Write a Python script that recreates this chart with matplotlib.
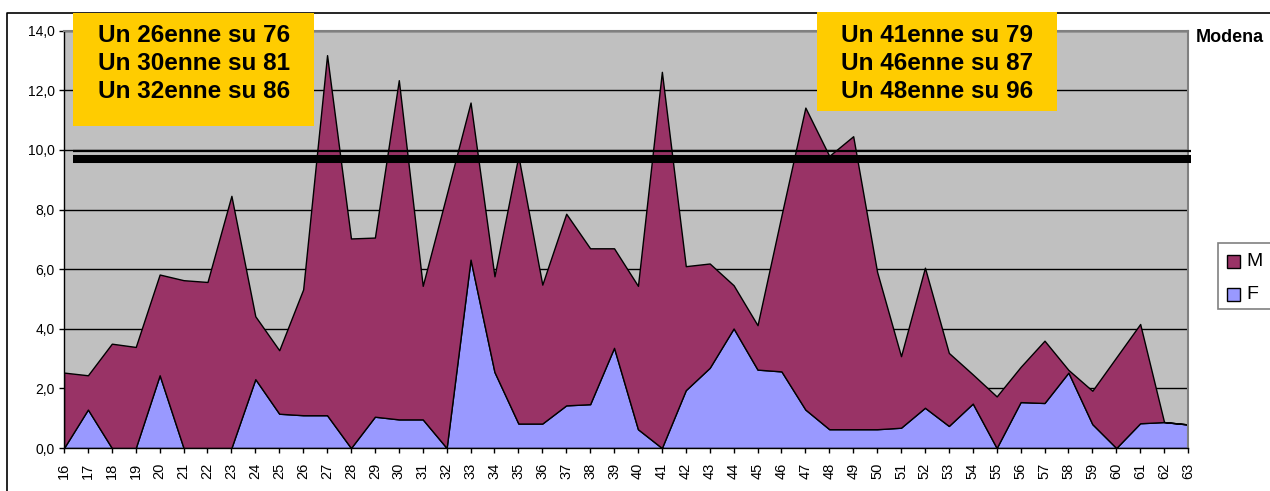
import matplotlib
matplotlib.use("Agg")
import matplotlib.pyplot as plt
from matplotlib.patches import Rectangle
from matplotlib.lines import Line2D

plt.rcParams['font.family'] = ['Liberation Sans', 'DejaVu Sans']

# ---------------- data ----------------
ages = list(range(16, 64))
F = [0.00, 1.29, 0.00, 0.00, 2.44, 0.00, 0.00, 0.00, 2.31, 1.15,
     1.10, 1.10, 0.00, 1.05, 0.96, 0.96, 0.00, 6.32, 2.55, 0.82,
     0.82, 1.43, 1.47, 3.36, 0.63, 0.00, 1.94, 2.69, 4.01, 2.63,
     2.57, 1.29, 0.63, 0.63, 0.63, 0.68, 1.35, 0.74, 1.49, 0.00,
     1.54, 1.51, 2.53, 0.80, 0.00, 0.83, 0.87, 0.79]
M = [2.53, 1.15, 3.50, 3.39, 3.38, 5.63, 5.57, 8.46, 2.11, 2.13,
     4.22, 12.08, 7.03, 6.01, 11.38, 4.48, 8.50, 5.27, 3.21, 8.98,
     4.66, 6.43, 5.23, 3.34, 4.81, 12.62, 4.16, 3.50, 1.45, 1.49,
     5.23, 10.13, 9.17, 9.83, 5.28, 2.40, 4.70, 2.45, 0.98, 1.73,
     1.18, 2.09, 0.09, 1.12, 3.04, 3.33, 0.00, 0.00]
series_labels = ['M', 'F']
y_ticks = [0, 2, 4, 6, 8, 10, 12, 14]
y_tick_labels = ['0,0', '2,0', '4,0', '6,0', '8,0', '10,0', '12,0', '14,0']
ref_thin = 9.95
ref_thick = 9.68
box_left_lines = ['Un 26enne su 76', 'Un 30enne su 81', 'Un 32enne su 86']
box_right_lines = ['Un 41enne su 79', 'Un 46enne su 87', 'Un 48enne su 96']
title = 'Modena'

COL_M = '#993366'
COL_F = '#9999FF'
W, H = 1270, 491

fig = plt.figure(figsize=(W / 100, H / 100), dpi=100)
fig.patch.set_facecolor('white')


def fx(x):
    return x / W


def fy(y):
    return 1 - y / H


ax = fig.add_axes([fx(64), fy(448), fx(1188) - fx(64), (448 - 30.7) / H])
ax.set_facecolor('#C0C0C0')
ax.set_xlim(ages[0], ages[-1])
ax.set_ylim(0, 14)

for t in y_ticks[1:]:
    ax.axhline(t, color='black', lw=1.0, zorder=1)

ax.stackplot(ages, F, M, colors=[COL_F, COL_M], edgecolor='black',
             linewidth=1.0, zorder=2)

# reference lines
x0 = ages[0] + 9 / 23.92
x1 = ages[-1] + 3 / 23.92
ax.plot([x0, x1], [ref_thin, ref_thin], color='black', lw=1.6,
        clip_on=False, zorder=4, solid_capstyle='butt')
ax.plot([x0, x1], [ref_thick, ref_thick], color='black', lw=5.8,
        clip_on=False, zorder=4, solid_capstyle='butt')

ax.set_yticks(y_ticks)
ax.set_yticklabels(y_tick_labels, fontsize=10)
ax.set_xticks(ages)
ax.set_xticklabels([str(a) for a in ages], rotation=90, fontsize=10.5)
ax.tick_params(axis='both', direction='out', length=3.5, width=1, color='black')
ax.tick_params(axis='y', pad=3)
ax.tick_params(axis='x', pad=7)
for s in ['left', 'bottom']:
    ax.spines[s].set_color('black')
    ax.spines[s].set_linewidth(1)
for s in ['right', 'top']:
    ax.spines[s].set_color('#808080')
    ax.spines[s].set_linewidth(1.5)

# outer border of chart area
fig.add_artist(Line2D([fx(7), fx(7), fx(1275)], [fy(495), fy(12.5), fy(12.5)],
                      transform=fig.transFigure, color='black', lw=1.2))

# yellow boxes
def ybox(xl, yt, xr, yb, lines, cx, ys):
    fig.add_artist(Rectangle((fx(xl), fy(yb)), fx(xr) - fx(xl), fy(yt) - fy(yb),
                             transform=fig.transFigure, facecolor='#FFCC00',
                             edgecolor='none', zorder=5))
    for ln, yy in zip(lines, ys):
        fig.text(fx(cx), fy(yy), ln, ha='center', va='center', fontsize=17.5,
                 fontweight='bold', color='black', zorder=6)


ybox(73, 13, 314, 126, box_left_lines, 194, [36, 64, 92])
ybox(817, 12, 1057, 111, box_right_lines, 937, [36, 64, 92])

fig.text(fx(1196), fy(37), title, ha='left', va='center', fontsize=13,
         fontweight='bold', color='black')

# legend
fig.add_artist(Rectangle((fx(1218), fy(309)), fx(1290) - fx(1218), fy(243) - fy(309),
                         transform=fig.transFigure, facecolor='white',
                         edgecolor='#808080', lw=1.2))
for lab, col, yy in zip(series_labels, [COL_M, COL_F], [261.5, 294.5]):
    fig.add_artist(Rectangle((fx(1227), fy(yy + 6.5)), fx(13), 13 / H,
                             transform=fig.transFigure, facecolor=col,
                             edgecolor='black', lw=1))
    fig.text(fx(1246), fy(yy), lab, ha='left', va='center', fontsize=14,
             color='black')

fig.savefig('out.png', dpi=100)
